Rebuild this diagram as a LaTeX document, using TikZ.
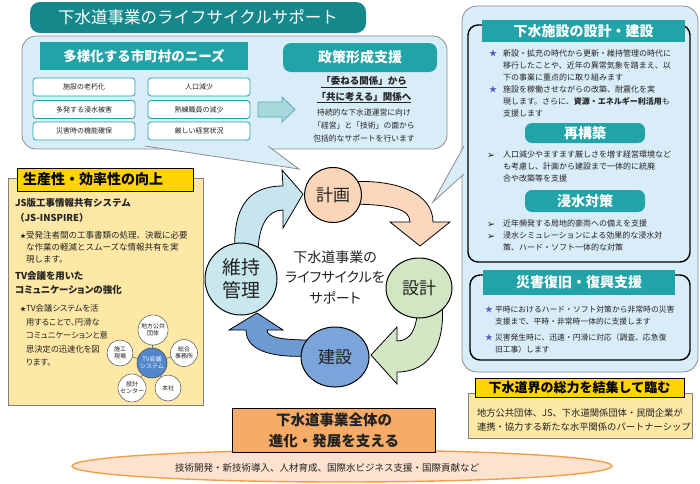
\documentclass[tikz,border=0pt]{standalone}
\usepackage{fontspec}
\setmainfont{Noto Sans CJK JP}
\newfontfamily\jpp[RawFeature=+palt]{Noto Sans CJK JP}
\newfontfamily\djv{DejaVu Sans}
\usetikzlibrary{shapes.geometric}
\definecolor{tealT}{HTML}{16888C}
\definecolor{tealH}{HTML}{22A3A8}
\definecolor{bub}{HTML}{D9EDF8}
\definecolor{bubE}{HTML}{8C8C8C}
\definecolor{yelH}{HTML}{FFD400}
\definecolor{yelL}{HTML}{FDE8A6}
\definecolor{orgB}{HTML}{F6AC66}
\definecolor{ellF}{HTML}{FDE3CF}
\definecolor{ellE}{HTML}{F0A048}
\definecolor{cPlan}{HTML}{FAD5B8}
\definecolor{cDes}{HTML}{D1E6C2}
\definecolor{cCon}{HTML}{7BA4DA}
\definecolor{cMnt}{HTML}{C8E8EE}
\definecolor{aPlan}{HTML}{FBD8BD}
\definecolor{aDes}{HTML}{D3E7C5}
\definecolor{aCon}{HTML}{6E9BD4}
\definecolor{aMnt}{HTML}{C6E5EE}
\definecolor{starC}{HTML}{5A5AC0}
\definecolor{netB}{HTML}{5287CC}
\definecolor{blkA}{HTML}{A6D8DE}
\definecolor{blkE}{HTML}{5FA9B3}
\definecolor{txt}{HTML}{222222}
\newcommand{\arrmark}{\makebox[16pt][l]{\djv\fontsize{9.5}{9.5}\selectfont\raisebox{-0.5pt}{➢}}}
\begin{document}
\begin{tikzpicture}[x=1pt,y=-1pt,
  every node/.style={inner sep=0pt,outer sep=0pt},
  bubble/.style={fill=bub,draw=bubE,line width=0.8pt},
  tail/.style={fill=bub,draw=bubE,line width=0.8pt},
  hdr/.style={fill=tealH,text=white,font=\bfseries\fontsize{14}{16}\selectfont},
  needbox/.style={draw=tealH,line width=0.8pt,fill=white,rounded corners=3pt,minimum width=102pt,minimum height=18pt,font=\fontsize{7}{8}\selectfont,text=txt},
  rtxt/.style={anchor=north west,align=left,text=txt,font=\fontsize{8}{12}\selectfont},
  frame/.style={draw=black,line width=1.4pt,rounded corners=10pt},
  yhdr/.style={draw=black,line width=1pt,fill=yelH,text=black},
  cyc/.style={ellipse,draw=black,line width=1pt,text=txt,font=\fontsize{17}{19}\selectfont},
  cyarrow/.style={draw=black,line width=0.8pt},
  nets/.style={circle,draw=gray!80!black,line width=0.6pt,fill=white,align=center,text=txt,font=\fontsize{6}{7}\selectfont},
  netl/.style={draw=gray!80!black,line width=0.6pt}
]
\fill[white] (0,0) rectangle (700,483);
\useasboundingbox (0,0) rectangle (700,483);

% title
\node[fill=tealT,rounded corners=10pt,minimum width=336pt,minimum height=31pt,text=white,font=\fontsize{16.5}{18}\selectfont] (title) at (198,17.5) {下水道事業のライフサイクルサポート};

% left bubble
\draw[bubble,rounded corners=14pt] (22,36) rectangle (447,149);
\path[tail] (145,146) -- (299,169) -- (268,146);
\node[hdr,minimum width=208pt,minimum height=28pt,font=\bfseries\fontsize{13.5}{15}\selectfont] (needs) at (144,56) {多様化する市町村のニーズ};
\node[needbox] (n1) at (84,87) {施設の老朽化};
\node[needbox] (n2) at (199,87) {人口減少};
\node[needbox] (n3) at (84,109.5) {多発する浸水被害};
\node[needbox] (n4) at (199,109.5) {熟練職員の減少};
\node[needbox] (n5) at (84,131) {災害時の機能確保};
\node[needbox] (n6) at (199,131) {厳しい経営状況};
\filldraw[fill=blkA,draw=blkE,line width=0.8pt] (258,102) -- (282,102) -- (282,97) -- (295,109.5) -- (282,122) -- (282,117) -- (258,117) -- cycle;
\node[hdr,rounded corners=8pt,minimum width=154pt,minimum height=29pt] (policy) at (360,57.5) {政策形成支援};
\node[font=\bfseries\fontsize{9.5}{11}\selectfont,text=txt] (pol1) at (364,82) {\underline{「委ねる関係」から}};
\node[font=\bfseries\fontsize{9.5}{11}\selectfont,text=txt] (pol2) at (364,97.5) {\underline{「共に考える」関係へ}};
\node[font=\fontsize{7.8}{13}\selectfont,align=center,text=txt] (pol3) at (364,126) {持続的な下水道運営に向け\\「経営」と「技術」の面から\\包括的なサポートを行います};

% right bubble
\draw[bubble,rounded corners=15pt] (462,6) rectangle (698,372);
\path[tail] (464,146) -- (433,202) -- (464,174);
\draw[frame] (468,25) rectangle (690,262);
\node[hdr,minimum width=203pt,minimum height=22pt] (rh1) at (583.5,31) {下水施設の設計・建設};
\node[rtxt] (rb1) at (489,50) {\makebox[14pt][l]{\color{starC}★}新設・拡充の時代から更新・維持管理の時代に\\\hspace*{14pt}移行したことや、近年の異常気象を踏まえ、以\\\hspace*{14pt}下の事業に重点的に取り組みます};
\node[rtxt] (rb2) at (489,86) {\makebox[14pt][l]{\color{starC}★}施設を稼働させながらの改築、耐震化を実\\\hspace*{14pt}現します。さらに、\textbf{資源・エネルギー利活用}も\\\hspace*{14pt}支援します};
\node[hdr,rounded corners=7pt,minimum width=120pt,minimum height=20pt] (rh2) at (585,133) {再構築};
\node[rtxt] (rb3) at (487,151) {\arrmark 人口減少やますます厳しさを増す経営環境など\\\hspace*{16pt}も考慮し、計画から建設まで一体的に統廃\\\hspace*{16pt}合や改築等を支援};
\node[hdr,rounded corners=7pt,minimum width=120pt,minimum height=22pt] (rh3) at (585,201) {浸水対策};
\node[rtxt] (rb4) at (487,220) {\arrmark 近年頻発する局地的豪雨への備えを支援\\\arrmark 浸水シミュレーションによる効果的な浸水対\\\hspace*{16pt}策、ハード・ソフト一体的な対策};
\draw[frame] (470,275) rectangle (690,360);
\node[hdr,minimum width=192pt,minimum height=25pt] (rh4) at (579,282.5) {災害復旧・復興支援};
\node[rtxt,font=\fontsize{7.8}{11.5}\selectfont] (rb5) at (485,306) {\makebox[10pt][l]{\color{starC}★}平時におけるハード・ソフト対策から非常時の災害\\\hspace*{10pt}支援まで、平時・非常時一体的に支援します};
\node[rtxt,font=\fontsize{7.8}{11.5}\selectfont] (rb6) at (485,334) {\makebox[10pt][l]{\color{starC}★}災害発生時に、迅速・円滑に対応（調査、応急復\\\hspace*{10pt}旧工事）します};

% bottom right
\draw[fill=yelL,draw=gray,line width=0.8pt] (468,393) rectangle (692,438);
\node[yhdr,minimum width=209pt,minimum height=19pt,font=\bfseries\fontsize{13}{14}\selectfont] (unite) at (579.5,387.5) {下水道界の総力を結集して臨む};
\node[rtxt,font=\fontsize{9.3}{14}\selectfont] (partner) at (477,409) {地方公共団体、JS、下水道関係団体・民間企業が\\連携・協力する新たな水平関係のパートナーシップ};

% left yellow box
\draw[fill=yelL,draw=gray,line width=0.8pt] (8,178) rectangle (203,405);
\node[yhdr,inner xsep=6pt,text width=164pt,minimum height=23pt,font=\bfseries\fontsize{14}{15}\selectfont] (prod) at (105,179.5) {生産性・効率性の向上};
\node[rtxt,font=\bfseries\fontsize{9.5}{15}\selectfont] (lj1) at (15,198.5) {JS版工事情報共有システム\\（JS-INSPIRE）};
\node[rtxt,font=\fontsize{8.5}{12}\selectfont] (lb1) at (20,231) {\makebox[6pt][l]{\fontsize{6}{6}\selectfont ★}受発注者間の工事書類の処理、決裁に必要\\\hspace*{6pt}な作業の軽減とスムーズな情報共有を実\\\hspace*{6pt}現します。};
\node[rtxt,font=\jpp\bfseries\fontsize{9.5}{14}\selectfont] (lj2) at (15,271.5) {TV会議を用いた\\コミュニケーションの強化};
\node[rtxt,font=\jpp\fontsize{8.3}{13.5}\selectfont] (lb2) at (20,305) {\makebox[6pt][l]{\fontsize{6}{6}\selectfont ★}TV会議システムを活\\\hspace*{6pt}用することで、円滑な\\\hspace*{6pt}コミュニケーションと意\\\hspace*{6pt}思決定の迅速化を図\\\hspace*{6pt}ります。};

% network
\node[circle,fill=netB,draw=gray!60!black,line width=0.6pt,minimum size=30pt,align=center,text=white,font=\fontsize{6}{7}\selectfont] (tv) at (152,363) {TV会議\\システム};
\node[nets,minimum size=30pt] (s1) at (153,330) {地方公共\\団体};
\node[nets,minimum size=26pt] (s2) at (120,353) {施工\\現場};
\node[nets,minimum size=27pt] (s3) at (184,353) {総合\\事務所};
\node[nets,minimum size=28pt] (s4) at (132,388) {設計\\センター};
\node[nets,minimum size=26pt] (s5) at (168,388) {本社};
\draw[netl] (tv) -- (s1);
\draw[netl] (tv) -- (s2);
\draw[netl] (tv) -- (s3);
\draw[netl] (tv) -- (s4);
\draw[netl] (tv) -- (s5);

% cycle arrows
\filldraw[cyarrow,fill=aPlan] (345,182) .. controls (400,178) and (433,195) .. (433,222) -- (450,222) -- (420,246) -- (390,222) -- (410,222) .. controls (410,210) and (395,204) .. (345,204) -- cycle;
\filldraw[cyarrow,fill=aDes] (442,300) .. controls (446,345) and (430,372) .. (397,372) -- (397,384) -- (371,355) -- (397,327) -- (397,341) .. controls (410,341) and (418,330) .. (418,300) -- cycle;
\filldraw[cyarrow,fill=aCon] (310,356) .. controls (270,358) and (246,350) .. (246,330) -- (229,330) -- (257,313) -- (283,330) -- (267,330) .. controls (267,337) and (280,340) .. (310,340) -- cycle;
\filldraw[cyarrow,fill=aMnt] (235,255) .. controls (232,205) and (250,186) .. (283,186) -- (282,170) -- (303,194) -- (283,228) -- (283,210) .. controls (268,210) and (258,225) .. (258,255) -- cycle;

% cycle circles
\node[cyc,fill=cPlan,minimum width=57pt,minimum height=55pt] (plan) at (333,195) {計画};
\node[cyc,fill=cDes,minimum width=66pt,minimum height=60pt] (des) at (419,288) {設計};
\node[cyc,fill=cCon,minimum width=68pt,minimum height=60pt] (con) at (335,357) {建設};
\node[cyc,fill=cMnt,minimum width=72pt,minimum height=72pt,align=center,font=\fontsize{19}{23}\selectfont] (mnt) at (241,279) {維持\\管理};
\node[font=\jpp\fontsize{14}{20.5}\selectfont,align=center,text=txt] (ctr) at (335,277) {下水道事業の\\ライフサイクルを\\サポート};

% bottom
\draw[fill=ellF,draw=ellE,line width=1.4pt] (342,466) ellipse [x radius=270,y radius=16];
\node[font=\fontsize{9.5}{11}\selectfont,text=txt] (etext) at (327,468) {技術開発・新技術導入、人材育成、国際水ビジネス支援・国際貢献など};
\node[draw=black,line width=1pt,fill=orgB,minimum width=203pt,minimum height=44pt,align=center,text=txt,font=\bfseries\fontsize{14.5}{21}\selectfont] (whole) at (334,430) {下水道事業全体の\\進化・発展を支える};
\end{tikzpicture}
\end{document}
